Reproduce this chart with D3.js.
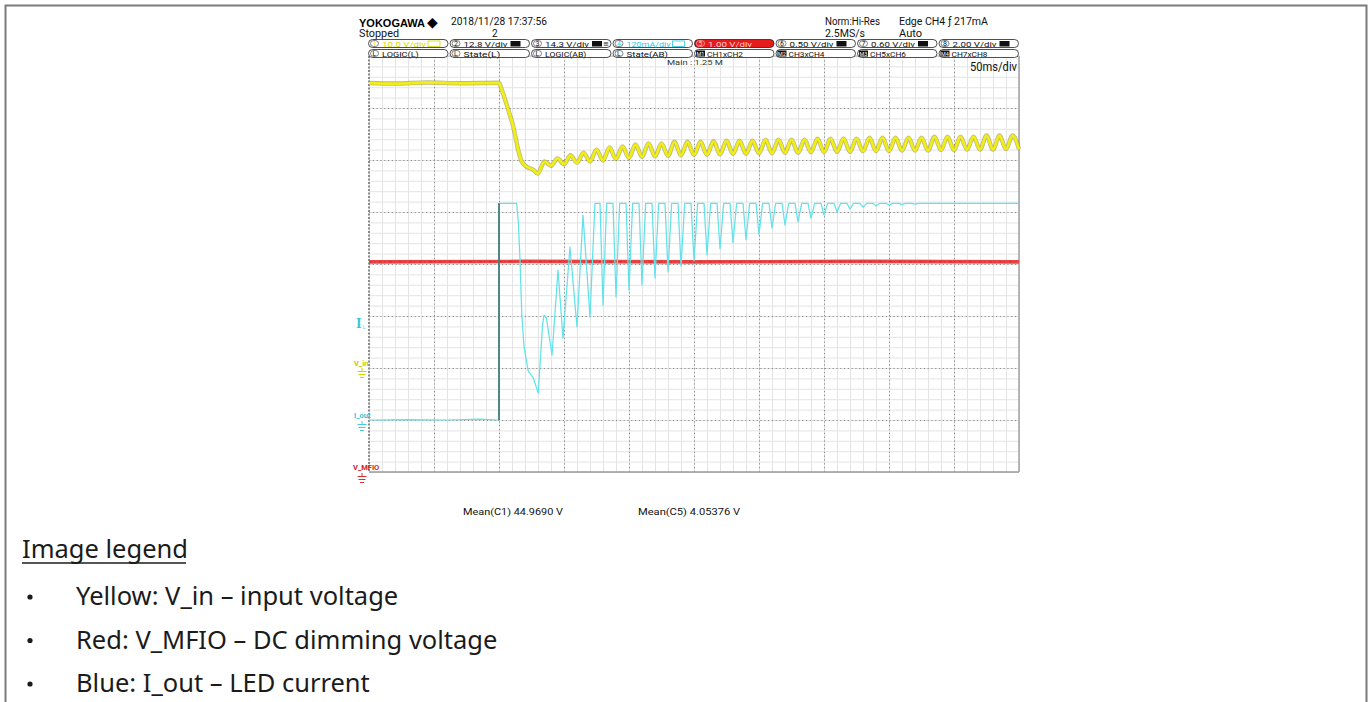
<!DOCTYPE html>
<html><head><meta charset="utf-8">
<script src="https://cdn.jsdelivr.net/npm/d3@7"></script>
<style>
html,body{margin:0;padding:0;background:#fff;}
svg{display:block;}
</style></head><body>
<svg id="c" width="1370" height="702"></svg>
<script>
// ---------------- DATA ----------------
// time in ms (50 ms/div, 10 div), V_in in V, I_out in mA, V_MFIO in V
const vinFlatT = [0, 20, 45, 70, 100];
const vinFlatV = [54.8, 54.7, 54.9, 54.75, 54.85];
const vinDropT = [102.1, 107.2, 111.0, 114.8, 117.5, 121.3, 126.4, 129.8];
const vinDropV = [53.5, 49.6, 46.4, 41.9, 39.7, 38.7, 38.1, 37.4];
const vinPeakT = [135,145,155,165,175,185,195,205,215,225,235,245,255,265,275,285,295,305,315,325,335,345,355,365,375,385,395,405,415,425,435,445,455,465,475,485,495];
const vinPeakV = [39.7,40.3,40.9,41.4,42.0,42.4,42.6,43.0,43.2,43.2,43.5,43.5,43.5,43.6,43.7,43.7,43.7,43.9,43.9,43.9,43.9,44.1,44.1,44.1,44.1,44.3,44.3,44.3,44.3,44.3,44.5,44.5,44.5,44.5,44.7,44.7,44.7];
const vinTroughT = [140,150,160,170,180,190,200,210,220,230,240,250,260,270,280,290,300,310,320,330,340,350,360,370,380,390,400,410,420,430,440,450,460,470,480,490,500];
const vinTroughV = [38.9,39.2,39.5,39.7,39.9,40.2,40.4,40.6,40.7,40.8,40.9,41.0,41.0,41.1,41.2,41.2,41.3,41.3,41.4,41.4,41.5,41.5,41.6,41.6,41.7,41.7,41.7,41.8,41.8,41.8,41.9,41.9,42.0,42.0,42.0,42.1,42.1];

const ioutEarlyT = [0, 30, 60, 85, 100, 100, 113.6, 114.9, 116.2, 117.5, 119.2, 122.5, 126.4, 130.2, 133.5, 134.6, 136.5, 140.8, 145.4, 149.2, 154.6, 160.0, 164.6, 170.0, 173.8, 177.7];
const ioutEarlyV = [0, 1, 0, 2, 0, 500, 500, 455, 366, 247, 170, 112, 97, 62, 220, 242, 235, 150, 346, 189, 399, 215, 473, 238, 500, 500];
const ioutTroughT = [180,190,200,210,220,230,240,250,260,270,280,290,300,310,320,330,340,350,360,370,380,390,400,410,420];
const ioutTroughV = [265,284,300,312,328,342,355,367,381,395,409,416,429,443,450,457,466,473,480,487,491,494,496,497,498];
const ioutTop = 500;

const mfioT = [0, 120, 250, 380, 500];
const mfioV = [4.04, 4.05, 4.04, 4.05, 4.04];

const row1Nums = ["1","2","3","4","5","6","7","8"];
const row1Text = ["10.0 V/div","12.8 V/div","14.3 V/div","120mA/div","1.00 V/div","0.50 V/div","0.60 V/div","2.00 V/div"];
const row2Tags = ["L","L","L","L","M1","M2","M3","M4"];
const row2Text = ["LOGIC(L)","State(L)","LOGIC(AB)","State(AB)","CH1xCH2","CH3xCH4","CH5xCH6","CH7xCH8"];
const measureText = ["Mean(C1)  44.9690 V", "Mean(C5)  4.05376 V"];
const legendTitle = "Image legend";
const legendItems = ["Yellow: V_in \u2013 input voltage", "Red: V_MFIO \u2013 DC dimming voltage", "Blue: I_out \u2013 LED current"];

// ---------------- LAYOUT ----------------
const svg = d3.select('#c');
const X0 = 369, X1 = 1019, Y0 = 56, Y1 = 472;
const x = d3.scaleLinear().domain([0, 500]).range([X0, X1]);
const xDiv = d3.scaleLinear().domain([0, 10]).range([X0, X1]);
const yDiv = d3.scaleLinear().domain([0, 8]).range([Y1, Y0]);
const yVin = d3.scaleLinear().domain([-20, 60]).range([Y1, Y0]);   // 10 V/div, zero 2 div up
const yI = d3.scaleLinear().domain([-120, 840]).range([Y1, Y0]);   // 120 mA/div, zero 1 div up
const yM = d3.scaleLinear().domain([0, 8]).range([Y1, Y0]);        // 1 V/div, zero at bottom

const SCR = "Roboto, 'DejaVu Sans', sans-serif";

// page border
svg.append('path').attr('d', `M5.5,702 V5.5 H1366.5 V702`)
  .attr('fill', 'none').attr('stroke', '#7b7b7b').attr('stroke-width', 2);

// ---------------- GRID ----------------
const grid = svg.append('g');
const minorX = d3.axisBottom(xDiv).tickValues(d3.range(0, 10.001, 0.2)).tickSize(-(Y1 - Y0)).tickFormat('');
const minorY = d3.axisLeft(yDiv).tickValues(d3.range(0, 8.001, 0.2)).tickSize(-(X1 - X0)).tickFormat('');
const gMx = grid.append('g').attr('transform', `translate(0,${Y1})`).call(minorX);
const gMy = grid.append('g').attr('transform', `translate(${X0},0)`).call(minorY);
[gMx, gMy].forEach(g => { g.select('.domain').remove(); g.selectAll('line').attr('stroke', '#e4e4e4').attr('stroke-width', 1); });

const majorX = d3.axisBottom(xDiv).tickValues(d3.range(1, 10)).tickSize(-(Y1 - Y0)).tickFormat('');
const majorY = d3.axisLeft(yDiv).tickValues(d3.range(1, 8)).tickSize(-(X1 - X0)).tickFormat('');
const gJx = grid.append('g').attr('transform', `translate(0,${Y1})`).call(majorX);
const gJy = grid.append('g').attr('transform', `translate(${X0},0)`).call(majorY);
[gJx, gJy].forEach(g => { g.select('.domain').remove(); g.selectAll('line').attr('stroke', '#8c8c8c').attr('stroke-width', 1).attr('stroke-dasharray', '1.2,2.6'); });

// frame
grid.append('line').attr('x1', X0).attr('x2', X0).attr('y1', Y0).attr('y2', Y1).attr('stroke', '#8a8a8a').attr('stroke-width', 2).attr('stroke-dasharray', '2,1.5');
grid.append('line').attr('x1', X1).attr('x2', X1).attr('y1', Y0).attr('y2', Y1).attr('stroke', '#a0a0a0').attr('stroke-width', 1.5);
grid.append('line').attr('x1', X0).attr('x2', X1).attr('y1', Y1).attr('y2', Y1).attr('stroke', '#9a9a9a').attr('stroke-width', 1.5);
grid.append('line').attr('x1', X0).attr('x2', X1).attr('y1', Y0).attr('y2', Y0).attr('stroke', '#b5b5b5').attr('stroke-width', 1);

// ---------------- TRACES ----------------
// V_MFIO (red)
const mfioPts = mfioT.map((t, i) => [t, mfioV[i]]);
const lineM = d3.line().x(d => x(d[0])).y(d => yM(d[1]));
svg.append('path').attr('d', lineM(mfioPts)).attr('fill', 'none').attr('stroke', '#e84444').attr('stroke-width', 3.6);
svg.append('path').attr('d', lineM(mfioPts)).attr('fill', 'none').attr('stroke', '#a81818').attr('stroke-width', 1).attr('stroke-opacity', 0.45).attr('stroke-dasharray', '3,2,1,4');

// I_out (cyan)
const ioutPts = ioutEarlyT.map((t, i) => [t, ioutEarlyV[i]]);
ioutTroughT.forEach((t, i) => {
  ioutPts.push([t - 2.3, ioutTop]);
  ioutPts.push([t, ioutTroughV[i]]);
  ioutPts.push([t + 2.8, ioutTop]);
});
ioutPts.push([500, ioutTop]);
const lineI = d3.line().x(d => x(d[0])).y(d => yI(d[1]));
svg.append('path').attr('d', lineI(ioutPts)).attr('fill', 'none').attr('stroke', '#62e2ea').attr('stroke-width', 1.25).attr('stroke-linejoin', 'round');
// trigger edge appears dark
svg.append('line').attr('x1', x(100)).attr('x2', x(100)).attr('y1', yI(0)).attr('y2', yI(ioutTop))
  .attr('stroke', '#3a6868').attr('stroke-width', 1.5);

// V_in (yellow)
const vinPts = vinFlatT.map((t, i) => [t, vinFlatV[i]])
  .concat(vinDropT.map((t, i) => [t, vinDropV[i]]));
const ripple = vinPeakT.map((t, i) => [t, vinPeakV[i]]).concat(vinTroughT.map((t, i) => [t, vinTroughV[i]]))
  .sort((a, b) => a[0] - b[0]);
const lineV = d3.line().x(d => x(d[0])).y(d => yVin(d[1])).curve(d3.curveMonotoneX);
const allVin = vinPts.concat(ripple);
svg.append('path').attr('d', lineV(allVin)).attr('fill', 'none').attr('stroke', '#8a8420').attr('stroke-width', 4.4).attr('stroke-opacity', 0.55).attr('stroke-linejoin', 'round');
svg.append('path').attr('d', lineV(allVin)).attr('fill', 'none').attr('stroke', '#f0ee14').attr('stroke-width', 2.8).attr('stroke-linejoin', 'round');

// ---------------- LEFT MARKERS ----------------
function ground(cx, y, color) {
  const g = svg.append('g').attr('stroke', color).attr('stroke-width', 1);
  g.append('line').attr('x1', cx).attr('x2', cx).attr('y1', y - 2).attr('y2', y + 1);
  [[9, 1], [7, 4], [4, 7]].forEach(([w, dy]) => g.append('line').attr('x1', cx - w / 2).attr('x2', cx + w / 2).attr('y1', y + dy + 0.5).attr('y2', y + dy + 0.5));
}
svg.append('text').attr('x', 356).attr('y', 328).attr('font-family', "'DejaVu Serif', serif").attr('font-weight', 'bold').attr('font-size', 12).attr('fill', '#3cc6d6').text('I');
svg.append('text').attr('x', 363).attr('y', 329).attr('font-family', SCR).attr('font-size', 4.5).attr('fill', '#3cc6d6').text('L');
svg.append('text').attr('x', 354).attr('y', yVin(0) - 2).attr('font-family', SCR).attr('font-size', 7.5).attr('font-weight', 'bold').attr('fill', '#c8c800').text('V_in');
ground(362, yVin(0) + 2, '#d4d400');
svg.append('text').attr('x', 354).attr('y', yI(0) - 2).attr('font-family', SCR).attr('font-size', 7.5).attr('font-weight', 'bold').attr('fill', '#34c4d4').text('I_out');
ground(362, yI(0) + 3, '#44ccdc');
svg.append('text').attr('x', 353).attr('y', yM(0) - 2).attr('font-family', SCR).attr('font-size', 7.5).attr('font-weight', 'bold').attr('fill', '#d42020').text('V_MFIO');
ground(362, yM(0) + 3, '#e03030');

// ---------------- HEADER ----------------
function txt(xx, yy, s, o = {}) {
  const t = svg.append('text').attr('x', xx).attr('y', yy).attr('font-family', o.family || SCR)
    .attr('font-size', o.size || 10).attr('fill', o.fill || '#111').text(s);
  if (o.weight) t.attr('font-weight', o.weight);
  if (o.len) t.attr('textLength', o.len).attr('lengthAdjust', 'spacingAndGlyphs');
  return t;
}
txt(359, 26.5, 'YOKOGAWA', { family: "'Liberation Sans', Arial, sans-serif", size: 11.5, weight: 'bold', len: 66, fill: '#000' });
txt(427, 27, '\u25C6', { family: "'DejaVu Sans', sans-serif", size: 14, fill: '#000' });
txt(451, 24.8, '2018/11/28  17:37:56', { size: 10, len: 96 });
txt(359, 36.6, 'Stopped', { size: 10, len: 40 });
txt(492, 36.6, '2', { size: 10 });
txt(825, 24.8, 'Norm:Hi-Res', { size: 10, len: 55 });
txt(825, 36.6, '2.5MS/s', { size: 10, len: 40 });
txt(899, 24.8, 'Edge CH4 \u0192 217mA', { size: 10, len: 89 });
txt(899, 36.6, 'Auto', { size: 10, len: 23 });

const boxX = d3.range(8).map(i => 368 + i * 81.5);
const boxW = 79.5;
const rowColor = ['#d8d800', '#111', '#111', '#2ec8e0', '#ffd0d0', '#111', '#111', '#111'];
boxX.forEach((bx, i) => {
  // row 1
  const red = i === 4;
  svg.append('rect').attr('x', bx + 0.5).attr('y', 39.5).attr('width', boxW).attr('height', 8).attr('rx', 4)
    .attr('fill', red ? '#e51c1c' : '#fff').attr('stroke', '#222').attr('stroke-width', 0.8);
  svg.append('rect').attr('x', bx + 2.5).attr('y', 40.5).attr('width', 8).attr('height', 6).attr('rx', 3)
    .attr('fill', 'none').attr('stroke', red ? '#ffd0d0' : '#333').attr('stroke-width', 0.6);
  txt(bx + 4.6, 46.3, row1Nums[i], { size: 7, fill: rowColor[i] });
  txt(bx + 14, 46.5, row1Text[i], { size: 8, fill: rowColor[i], len: 44 });
  if (i !== 0 && i !== 3 && i !== 4) {
    svg.append('rect').attr('x', bx + 61).attr('y', 41).attr('width', 10).attr('height', 5.5).attr('fill', '#111');
    if (i === 2) txt(bx + 72, 46.3, '\u2261', { size: 7 });
  } else if (i === 0 || i === 3) {
    svg.append('rect').attr('x', bx + 60).attr('y', 41).attr('width', 12).attr('height', 5.5).attr('fill', 'none').attr('stroke', rowColor[i]).attr('stroke-width', 0.8);
  }
  // row 2
  svg.append('rect').attr('x', bx + 0.5).attr('y', 49.5).attr('width', boxW).attr('height', 8).attr('rx', 4)
    .attr('fill', '#fff').attr('stroke', '#222').attr('stroke-width', 0.8);
  if (i < 4) {
    svg.append('rect').attr('x', bx + 2.5).attr('y', 50.5).attr('width', 8).attr('height', 6).attr('rx', 3)
      .attr('fill', 'none').attr('stroke', '#333').attr('stroke-width', 0.6);
    txt(bx + 4.5, 56.3, row2Tags[i], { size: 7 });
    txt(bx + 14, 56.5, row2Text[i], { size: 8, len: row2Text[i].length * 4.6 });
  } else {
    svg.append('rect').attr('x', bx + 2).attr('y', 50.5).attr('width', 9).attr('height', 6).attr('fill', '#111');
    txt(bx + 2.6, 56.2, row2Tags[i], { size: 6, fill: '#fff', len: 7.8 });
    txt(bx + 13, 56.5, row2Text[i], { size: 8, len: 36 });
  }
});

txt(667, 65, 'Main : 1.25 M', { size: 7, len: 56, fill: '#333' });
txt(970, 71, '50ms/div', { size: 12.5, len: 47, fill: '#111' });

// ---------------- MEASUREMENTS ----------------
txt(463, 515, measureText[0], { size: 8.5, len: 100 });
txt(638, 515, measureText[1], { size: 8.5, len: 102 });

// ---------------- LEGEND ----------------
const LF = "'Noto Sans', 'Open Sans', sans-serif";
txt(22, 558, legendTitle, { family: LF, size: 25.5, fill: '#1b1b1b' });
svg.append('line').attr('x1', 22).attr('x2', 186).attr('y1', 563).attr('y2', 563).attr('stroke', '#1b1b1b').attr('stroke-width', 1.5);
const legBase = [605, 648.5, 692];
legendItems.forEach((s, i) => {
  svg.append('circle').attr('cx', 30).attr('cy', legBase[i] - 8).attr('r', 2.6).attr('fill', '#1b1b1b');
  txt(76, legBase[i], s, { family: LF, size: 25.5, fill: '#1b1b1b' });
});
</script>
</body></html>
